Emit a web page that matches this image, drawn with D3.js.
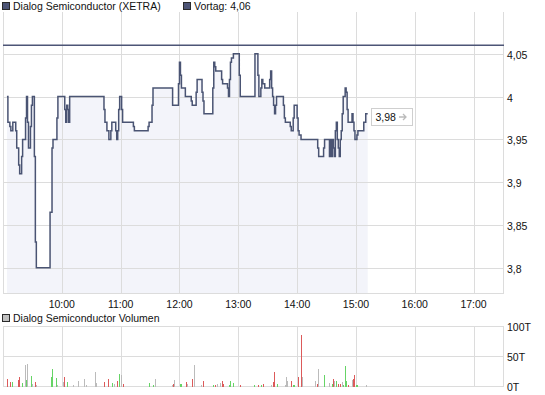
<!DOCTYPE html>
<html><head><meta charset="utf-8">
<script src="https://cdn.jsdelivr.net/npm/d3@7"></script>
<style>
html,body{margin:0;padding:0;background:#fff;}
svg{display:block;font-family:"Liberation Sans",Arial,sans-serif;}
</style></head><body>
<svg id="chart" width="545" height="395"></svg>
<script>
// Labels
const priceTitle = "Dialog Semiconductor (XETRA)";
const prevLabel = "Vortag: 4,06";
const volTitle = "Dialog Semiconductor Volumen";
const prevClose = 4.06;

// Intraday price (step series, value holds until next time)
const priceTimes = ["09:04","09:05","09:07","09:08","09:10","09:13","09:14","09:16","09:17","09:19","09:20","09:23","09:24","09:25","09:26","09:28","09:29","09:30","09:32","09:33","09:34","09:48","09:50","09:51","09:55","09:56","10:03","10:04","10:05","10:06","10:07","10:08","10:43","10:44","10:46","10:48","10:50","10:51","10:55","10:56","10:57","10:58","10:59","11:01","11:02","11:13","11:14","11:28","11:29","11:32","11:33","11:53","11:59","12:00","12:01","12:02","12:06","12:12","12:13","12:17","12:18","12:23","12:24","12:25","12:34","12:35","12:36","12:37","12:43","12:44","12:49","12:50","12:51","12:52","12:53","12:55","13:01","13:02","13:17","13:20","13:21","13:23","13:24","13:25","13:27","13:32","13:33","13:34","13:35","13:36","13:37","13:38","13:39","13:46","13:47","13:48","13:53","13:54","13:56","13:57","14:00","14:01","14:02","14:04","14:21","14:22","14:27","14:28","14:33","14:34","14:35","14:36","14:37","14:38","14:39","14:40","14:41","14:42","14:43","14:44","14:45","14:46","14:47","14:49","14:50","14:51","14:52","14:56","14:57","14:58","14:59","15:01","15:02","15:08","15:10","15:12"];
const prices = [4.00,3.97,3.965,3.96,3.97,3.96,3.94,3.92,3.91,3.93,3.95,3.975,4.00,3.97,3.94,3.965,3.99,4.00,3.93,3.83,3.80,3.865,3.94,3.95,3.975,4.00,3.985,3.97,3.99,3.985,3.97,4.00,3.985,3.97,3.96,3.95,3.96,3.97,3.96,3.95,3.96,3.985,4.00,3.985,3.97,3.965,3.96,3.965,3.97,3.99,4.01,3.99,4.015,4.04,4.025,4.01,4.00,3.995,3.99,4.005,4.02,4.005,3.995,3.98,4.01,4.04,4.035,4.03,4.02,4.015,4.01,4.00,4.02,4.04,4.045,4.05,4.025,4.00,4.05,4.025,4.00,4.01,4.02,4.015,4.01,4.02,4.03,4.01,4.00,3.99,3.98,3.99,4.00,3.99,3.975,3.97,3.965,3.96,3.975,3.99,3.975,3.96,3.955,3.95,3.94,3.93,3.94,3.95,3.93,3.95,3.93,3.95,3.94,3.93,3.96,3.97,3.95,3.94,3.93,3.95,3.96,3.98,4.00,4.01,4.005,3.985,3.97,3.98,3.97,3.96,3.95,3.955,3.96,3.97,3.98,3.98];

// Traded volume in thousands per minute; direction: u = up, d = down, n = unchanged
const volTimes = ["09:05","09:08","09:10","09:16","09:17","09:20","09:23","09:24","09:25","09:29","09:30","09:33","09:34","09:49","09:50","09:55","09:56","10:02","10:03","10:06","10:12","10:17","10:23","10:25","10:34","10:35","10:44","10:48","10:52","10:54","10:57","10:59","11:01","11:03","11:29","11:33","11:36","11:53","11:54","11:55","12:01","12:02","12:07","12:08","12:13","12:15","12:22","12:24","12:25","12:35","12:37","12:39","12:42","12:44","12:45","12:51","12:52","12:55","13:02","13:17","13:21","13:24","13:26","13:34","13:36","13:37","13:40","13:48","13:49","13:50","13:54","13:56","13:57","14:01","14:04","14:05","14:19","14:21","14:22","14:28","14:33","14:36","14:37","14:38","14:40","14:42","14:44","14:46","14:47","14:49","14:50","14:52","14:57","14:58","14:59","15:01","15:02","15:11"];
const volValues = [12,7,6,10.5,15.5,5.5,35,10.5,37,17,4,7,2,15.5,29,14,2,7,15.5,7,2,9,12,2,24,5.5,7,12,5.5,4,9,20,19,4,5.5,2,12,2,4,10.5,4,4,7,4,12,35,2,4,9,2,2,4,5.5,9,4,2,9,5.5,2,2,2,2,4,2,7,24,4,2,15.5,9,9,2,2,15.5,85,15.5,9,4,29,19,5.5,4,12,9,9,4,4,7,2,34,9,2,10.5,12,19,2,1,2];
const volDir = ["d","d","u","d","d","u","n","u","n","u","n","d","n","u","u","u","n","n","d","u","n","n","n","n","n","n","d","d","u","n","d","u","n","d","u","u","n","n","d","n","u","u","d","n","d","n","n","d","d","u","d","n","n","d","d","u","u","u","d","u","d","u","d","n","d","d","u","n","n","n","d","u","u","d","d","n","n","d","n","u","n","u","d","n","u","d","d","n","u","u","u","d","n","d","d","u","u","n"];

// Axes
const priceTicks = [3.8, 3.85, 3.9, 3.95, 4, 4.05];
const priceTickLabels = ["3,8", "3,85", "3,9", "3,95", "4", "4,05"];
const hourTicks = ["10:00","11:00","12:00","13:00","14:00","15:00","16:00","17:00"];
const volTicks = [0, 50, 100];
const volTickLabels = ["0T", "50T", "100T"];
const sessionStart = "09:00", sessionEnd = "17:30";

// Layout
const L = 3, R = 503, PT = 12, PB = 293, VT = 326, VB = 386;
const gridColor = "#dcdcdc", lineColor = "#4a5473", fillColor = "#f3f4fa";
const colors = {u: "#66d466", d: "#dc5a5a", n: "#bbbbbb"};
const fontSize = "10.5px";

const parse = d3.timeParse("%H:%M");
const svg = d3.select("#chart");

const x = d3.scaleTime().domain([parse(sessionStart), parse(sessionEnd)]).range([L, R]);
const y = d3.scaleLinear().domain([3.8, 4.05]).range([267.8, 53.8]);
const yv = d3.scaleLinear().domain([0, 100]).range([VB, VT]);

const px = v => Math.round(v) + 0.5;

const series = priceTimes.map((t, i) => ({t: parse(t), v: prices[i]}));

// Price fill under the step line
const area = d3.area().curve(d3.curveStepAfter)
  .x(d => x(d.t)).y0(PB).y1(d => y(d.v));
svg.append("path").datum(series).attr("d", area).attr("fill", fillColor);

// Price panel grid
const gPrice = svg.append("g").attr("stroke", gridColor).attr("stroke-width", 1).attr("shape-rendering", "crispEdges");
gPrice.selectAll(".hx").data(hourTicks).join("line")
  .attr("x1", d => px(x(parse(d)))).attr("x2", d => px(x(parse(d))))
  .attr("y1", PT).attr("y2", PB);
gPrice.selectAll(".hy").data(priceTicks).join("line")
  .attr("x1", L).attr("x2", R)
  .attr("y1", d => px(y(d))).attr("y2", d => px(y(d)));
gPrice.append("line").attr("x1", L + 0.5).attr("x2", L + 0.5).attr("y1", PT).attr("y2", PB + 0.5);
gPrice.append("line").attr("x1", R + 0.5).attr("x2", R + 0.5).attr("y1", PT).attr("y2", PB + 0.5);
gPrice.append("line").attr("x1", L).attr("x2", R + 1).attr("y1", PB + 0.5).attr("y2", PB + 0.5);

// Previous close
svg.append("line").attr("x1", L).attr("x2", R + 1)
  .attr("y1", y(prevClose)).attr("y2", y(prevClose))
  .attr("stroke", "#4d5576").attr("stroke-width", 1.5);

// Price step line
const line = d3.line().curve(d3.curveStepAfter).x(d => x(d.t)).y(d => y(d.v));
svg.append("path").datum(series).attr("d", line)
  .attr("fill", "none").attr("stroke", lineColor).attr("stroke-width", 1.5);

// Last price tag
const last = series[series.length - 1];
const tagY = y(last.v) - 6;
const tagX = x(last.t) + 3.5;
svg.append("rect").attr("x", Math.round(tagX) + 0.5).attr("y", Math.round(tagY) + 0.5)
  .attr("width", 41).attr("height", 17).attr("fill", "#fff").attr("stroke", "#cfcfcf");
svg.append("text").attr("x", Math.round(tagX) + 4.5).attr("y", Math.round(tagY) + 13)
  .attr("font-size", fontSize).attr("fill", "#111").text(d3.format(".2f")(last.v).replace(".", ","));
const ax = Math.round(tagX) + 28, ay = Math.round(tagY) + 9;
svg.append("path").attr("d", `M${ax},${ay}H${ax + 7}M${ax + 4},${ay - 3}L${ax + 7},${ay}L${ax + 4},${ay + 3}`)
  .attr("fill", "none").attr("stroke", "#bbbbbb").attr("stroke-width", 1.3);

// Price axis labels
svg.append("g").selectAll("text").data(priceTicks).join("text")
  .attr("x", R + 4).attr("y", d => y(d) + 5)
  .attr("font-size", fontSize).attr("fill", "#111")
  .text((d, i) => priceTickLabels[i]);

// Time axis labels
svg.append("g").selectAll("text").data(hourTicks).join("text")
  .attr("x", d => x(parse(d))).attr("y", PB + 15)
  .attr("text-anchor", "middle").attr("font-size", fontSize).attr("fill", "#111")
  .text(d => d);

// Legends
function legend(xp, yp, fill, label) {
  svg.append("rect").attr("x", xp + 0.5).attr("y", yp + 0.5).attr("width", 7).attr("height", 7)
    .attr("fill", fill).attr("stroke", "#2a2a2a");
  svg.append("text").attr("x", xp + 11).attr("y", yp + 8)
    .attr("font-size", fontSize).attr("fill", "#111").text(label);
}
legend(2, 2, "#4d5576", priceTitle);
legend(183, 2, "#4d5576", prevLabel);
legend(2, 314, "#c0c0c0", volTitle);

// Volume panel grid
const gVol = svg.append("g").attr("stroke", gridColor).attr("stroke-width", 1).attr("shape-rendering", "crispEdges");
gVol.selectAll(".vx").data(hourTicks).join("line")
  .attr("x1", d => px(x(parse(d)))).attr("x2", d => px(x(parse(d))))
  .attr("y1", VT).attr("y2", VB);
gVol.selectAll(".vy").data(volTicks).join("line")
  .attr("x1", L).attr("x2", R + 1)
  .attr("y1", d => px(yv(d))).attr("y2", d => px(yv(d)));
gVol.append("line").attr("x1", L + 0.5).attr("x2", L + 0.5).attr("y1", VT).attr("y2", VB + 1);
gVol.append("line").attr("x1", R + 0.5).attr("x2", R + 0.5).attr("y1", VT).attr("y2", VB + 1);

// Volume bars
const vols = volTimes.map((t, i) => ({t: parse(t), v: volValues[i], d: volDir[i]}));
svg.append("g").attr("shape-rendering", "crispEdges").selectAll("rect").data(vols).join("rect")
  .attr("x", d => Math.round(x(d.t) - 0.5)).attr("width", 1)
  .attr("y", d => yv(d.v)).attr("height", d => yv(0) - yv(d.v) + 0.5)
  .attr("fill", d => colors[d.d]);

// Volume axis labels
svg.append("g").selectAll("text").data(volTicks).join("text")
  .attr("x", R + 4).attr("y", d => yv(d) + 5)
  .attr("font-size", fontSize).attr("fill", "#111")
  .text((d, i) => volTickLabels[i]);
</script>
</body></html>
